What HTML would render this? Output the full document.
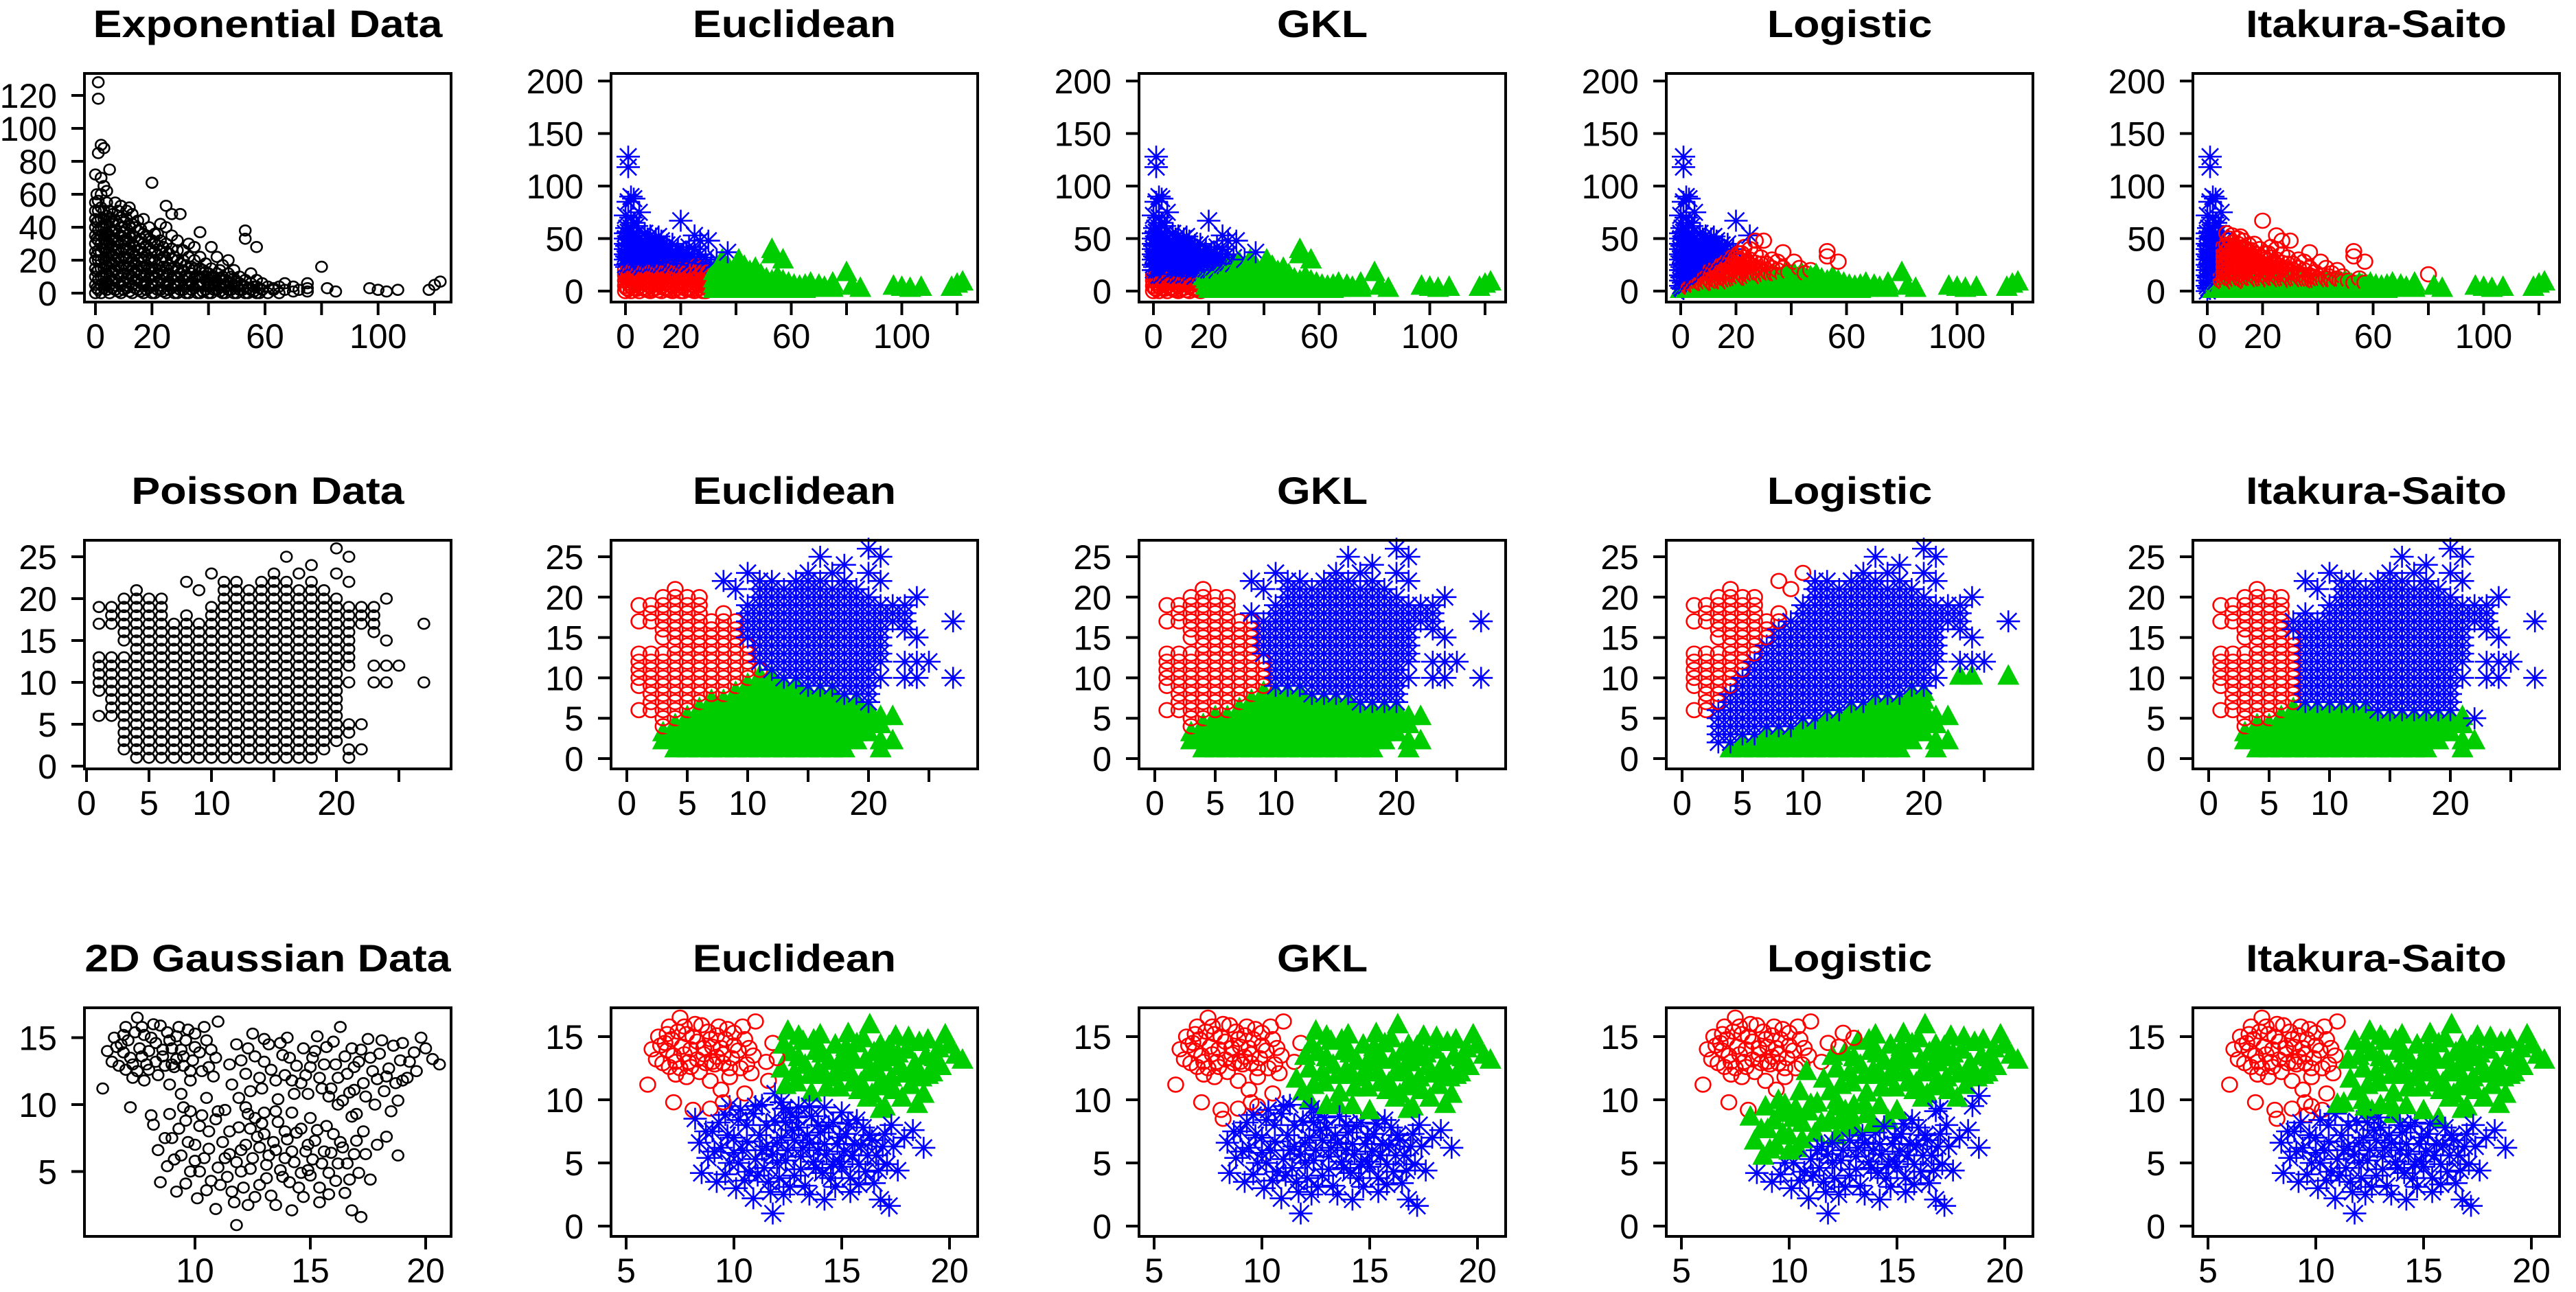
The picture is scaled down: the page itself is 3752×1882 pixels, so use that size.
<!DOCTYPE html>
<html><head><meta charset="utf-8"><title>Bregman clustering comparison</title>
<style>
html,body{margin:0;padding:0;background:#fff;}
svg{display:block;font-family:"Liberation Sans",Arial,sans-serif;}
</style></head>
<body>
<svg id="chart" xmlns="http://www.w3.org/2000/svg" width="3752" height="1882" viewBox="0 0 3752 1882">
<rect x="0" y="0" width="3752" height="1882" fill="#fff"/>
</svg>
<script>
// ---------- DATA ----------
// Exponential data: columns of [x, [y values]]
const expCols = [
[0,[0,5,10,15,20,25,30,35,40,45,50,55,72]],
[0.5,[3,13,23,33,43,60]],
[1,[2,8,14,20,26,32,38,44,50,56,85,128]],
[2,[0,5,10,15,20,25,30,35,40,45,52,60,70,90]],
[3,[3,9,15,21,27,33,39,45,50,65,88]],
[1,[118]],
[4,[2,7,12,17,22,27,32,37,42,47,55,62]],
[5,[0,5,10,15,20,25,30,35,40,45,50,75]],
[6,[3,8,13,18,23,28,33,38,43,48]],
[7,[2,8,14,20,26,32,38,44,55]],
[8,[1,6,11,16,21,26,31,36,42,50]],
[9,[0,5,10,15,20,25,30,35,40,46,53]],
[10,[2,7,12,17,22,27,32,37,43]],
[11,[3,9,15,21,27,33,39,45,50]],
[12,[1,6,11,16,21,26,31,36,41,52]],
[13,[0,5,10,15,20,25,30,35,42,48]],
[14,[3,8,13,18,23,28,34,40]],
[15,[2,8,14,20,26,32,38,44]],
[16,[1,6,11,16,21,27,33,39]],
[17,[0,5,10,15,20,25,30,36,45]],
[18,[2,7,12,17,23,29,35]],
[19,[3,9,15,21,27,33,40]],
[20,[0,5,10,15,20,26,32,67]],
[21,[0,5,10,15,20,25,30,36]],
[22,[2,7,12,17,23,29,36]],
[23,[2,8,14,20,26,32,42]],
[24,[1,6,11,16,22,28]],
[25,[0,5,10,15,20,25,30,40,53]],
[26,[2,7,12,17,24]],
[27,[3,9,15,21,27,35,48]],
[28,[0,5,10,16,22]],
[29,[0,5,10,15,20,26,32]],
[30,[2,7,12,18,48]],
[31,[2,8,14,20,26]],
[32,[0,5,10,17]],
[33,[0,5,10,15,22,30]],
[34,[2,7,12,16]],
[35,[3,9,15,20,28]],
[36,[0,5,10]],
[37,[0,5,10,15,22,37]],
[38,[1,5,10,14]],
[39,[2,8,13,18]],
[40,[0,4,8,12]],
[41,[0,5,10,15,28]],
[42,[2,6,10]],
[43,[2,7,12,22]],
[44,[1,5,9,14]],
[45,[0,5,10,17]],
[46,[0,4,8]],
[47,[2,7,12,20]],
[48,[2,6,10]],
[49,[0,5,9,14]],
[50,[0,4,7]],
[51,[2,6,10]],
[52,[2,5]],
[53,[0,4,8,33,38]],
[54,[0,3]],
[55,[2,6,12]],
[56,[1,4]],
[57,[0,4,8,28]],
[58,[0,3]],
[59,[2,6]],
[61,[0,4]],
[63,[2,3]],
[65,[0,4]],
[67,[2,6]],
[70,[1,4]],
[72,[2]],
[75,[1,3,6]],
[80,[16]],
[82,[3]],
[85,[1]],
[97,[3]],
[100,[2]],
[103,[1]],
[107,[2]],
[118,[2]],
[120,[5]],
[122,[7]]
];
// Poisson data: integer lattice columns [x, [y values]]
const poisCols = [
[1,[6,9,10,11,12,13,17,19]],
[2,[6,7,8,9,10,11,12,13,17,18,19]],
[3,[2,3,4,5,6,7,8,9,10,11,12,13,15,16,17,18,19,20]],
[4,[1,2,3,4,5,6,7,8,9,10,11,12,13,14,15,16,17,18,19,20,21]],
[5,[1,2,3,4,5,6,7,8,9,10,11,12,13,14,15,16,17,18,19,20]],
[6,[1,2,3,4,5,6,7,8,9,10,11,12,13,14,15,16,17,18,19,20]],
[7,[1,2,3,4,5,6,7,8,9,10,11,12,13,14,15,16,17]],
[8,[1,2,3,4,5,6,7,8,9,10,11,12,13,14,15,16,17,18,22]],
[9,[1,2,3,4,5,6,7,8,9,10,11,12,13,14,15,16,17,21]],
[10,[1,2,3,4,5,6,7,8,9,10,11,12,13,14,15,16,17,18,19,23]],
[11,[1,2,3,4,5,6,7,8,9,10,11,12,13,14,15,16,17,18,19,20,21,22]],
[12,[1,2,3,4,5,6,7,8,9,10,11,12,13,14,15,16,17,18,19,20,21,22]],
[13,[1,2,3,4,5,6,7,8,9,10,11,12,13,14,15,16,17,18,19,20,21]],
[14,[1,2,3,4,5,6,7,8,9,10,11,12,13,14,15,16,17,18,19,20,21,22]],
[15,[1,2,3,4,5,6,7,8,9,10,11,12,13,14,15,16,17,18,19,20,21,22,23]],
[16,[1,2,3,4,5,6,7,8,9,10,11,12,13,14,15,16,17,18,19,20,21,22,25]],
[17,[1,2,3,4,5,6,7,8,9,10,11,12,13,14,15,16,17,18,19,20,21,23]],
[18,[1,2,3,4,5,6,7,8,9,10,11,12,13,14,15,16,17,18,19,20,21,22,24]],
[19,[2,3,4,5,6,7,8,9,10,11,12,13,14,15,16,17,18,19,20,21]],
[20,[3,4,5,6,7,8,9,10,11,12,13,14,15,16,17,18,19,20,23,26]],
[21,[1,2,4,5,10,12,13,14,15,16,17,18,19,22,25]],
[22,[2,5,17,18,19]],
[23,[10,12,16,17,18,19]],
[24,[10,12,15,20]],
[25,[12]],
[27,[10,17]]
];
// 2D Gaussian data points [x, y]
const gaussPoints = [
[6.2,14],[6.5,15],[6.4,13.2],[6.8,14.5],[7,15.8],[7.2,13.5],[7.0,12.6],[7.5,16.5],[7.6,14.2],[7.8,15.2],
[7.9,13.0],[8.2,16],[8.3,14.6],[8.4,12.2],[8.6,13.6],[8.8,15.4],[9,14.2],[9.1,12.8],[9.3,15.8],[9.5,13.6],
[9.6,14.8],[9.8,12.5],[10.0,15.3],[10.2,13.9],[10.5,14.8],[10.6,12.8],[10.9,13.5],[11.0,16.2],[6,11.2],[7.2,9.8],
[8.1,9.2],[8.9,9.3],[9.4,10.8],[9.8,9.5],[7.8,11.8],[8.9,11.5],[7.3,12.0],[6.9,13.9],[8.0,14.0],[9.2,13.4],
[6.6,14.3],[6.9,15.2],[7.1,14.8],[7.3,13],[7.4,15.4],[7.7,13.6],[7.7,15.8],[8.0,12.6],[8.1,15.0],[8.3,13.2],
[8.5,15.9],[8.6,14.1],[8.7,12.9],[8.9,14.8],[9.0,13.0],[9.2,15.1],[9.4,14.1],[9.5,12.9],[9.7,15.6],[9.9,13.3],
[10.0,14.3],[10.3,12.5],[10.4,15.8],[10.7,14.1],[7.5,12.5],[6.7,12.9],[9.8,11.8],[10.8,12.1],
[11.5,13],[11.8,14.5],[11.6,11.5],[12.2,12.3],[12.5,15.3],[12.6,13.6],[12.9,11.2],[13.2,14.5],[13.3,12.6],[13.6,10.4],
[13.8,13.7],[14.0,15],[14.2,11.8],[14.4,12.9],[14.7,14.2],[14.9,10.8],[15.1,13.5],[15.3,15.1],[15.4,12],[15.7,14.3],
[15.9,11.2],[16.1,13],[16.3,15.8],[16.4,10.3],[16.6,12.3],[16.8,14.2],[17.1,13.2],[17.3,11.6],[17.5,14.9],[17.7,12.5],
[18.0,13.8],[18.2,11],[18.4,12.7],[18.6,14.4],[18.9,13.3],[19.2,12],[19.5,13.9],[19.8,15],[20.3,13.4],[20.6,13],
[17.0,9.3],[18.5,9.5],[16.2,10.0],[12.2,9.8],[11.9,10.5],[19.0,11.8],[13.5,9.5],[14.8,12.2],[16.9,11.1],[13.0,13.2],
[12.0,13.3],[12.3,14.2],[12.8,12.0],[13.0,14.9],[13.5,11.8],[13.7,14.6],[14.1,13.5],[14.3,10.8],[14.6,11.6],[15.0,12.8],
[15.2,14.0],[15.6,13.0],[15.8,10.6],[16.0,14.7],[16.2,12.0],[16.5,13.6],[16.9,12.8],[17.2,14.1],[17.4,10.6],[17.6,13.5],
[17.9,11.9],[18.1,14.8],[18.3,12.1],[18.7,11.6],[19.0,14.6],[19.3,13.2],[19.6,12.5],[20.0,14.2],[12.4,11.0],[13.9,12.2],
[15.5,11.2],[17.8,10.0],[18.8,10.3],[16.7,10.9],
[8.2,8.5],[8.4,6.6],[8.5,4.2],[8.8,5.4],[9.0,7.5],[9.2,3.5],[9.4,6.2],[9.6,8.8],[9.8,5],[10.0,7],
[10.1,3],[10.3,9.2],[10.4,6],[10.6,8],[10.7,4.3],[10.9,2.2],[11.0,5.3],[11.2,7.2],[11.3,9.6],[11.5,6.3],
[11.6,3.5],[11.8,1.0],[11.9,8.3],[12.0,5],[12.2,7],[12.3,2.5],[12.5,6],[12.6,9],[12.8,4],[13.0,7.8],
[13.1,5.5],[13.3,3.2],[13.5,6.6],[13.6,8.7],[13.8,4.6],[14.0,7.4],[14.2,2.1],[14.3,5.7],[14.5,3.8],[14.6,8.2],
[14.8,6.5],[15.0,4.7],[15.2,7.3],[15.4,2.7],[15.5,5.6],[15.7,8.4],[15.9,6.4],[16.1,4.3],[16.3,7.2],[16.5,3.4],
[16.6,5.6],[16.8,2.1],[17.0,7.3],[17.2,1.6],[17.4,6.3],[17.6,4.4],[17.9,7],[18.3,7.6],[18.8,6.2],[16.8,9.1],
[14.2,9.4],[10.5,10.5],[9.5,9.8],[11.4,4.6],[12.7,7.6],[14.9,5.1],[13.9,6.0],[12.4,8.2],[15.8,3.3],[10.2,5.0],
[8.7,7.5],[9.1,5.9],[9.3,8.2],[9.6,4.1],[9.7,7.2],[10.0,5.8],[10.2,8.4],[10.5,3.6],[10.6,6.7],[10.9,8.9],
[11.1,4.0],[11.3,6.0],[11.5,8.0],[11.7,2.7],[11.8,5.7],[12.0,6.6],[12.1,3.8],[12.3,9.3],[12.4,5.2],[12.6,3.1],
[12.8,6.8],[12.9,8.6],[13.1,4.5],[13.2,6.2],[13.4,7.2],[13.5,2.5],[13.7,5.1],[13.9,8.0],[14.1,4.2],[14.2,6.5],
[14.4,7.9],[14.6,4.9],[14.7,3.1],[14.9,7.0],[15.1,5.9],[15.3,8.1],[15.4,3.8],[15.6,6.5],[15.8,4.9],[16.0,7.8],
[16.2,5.6],[16.4,6.8],[16.7,4.4],[16.9,6.3],[17.1,4.9],[17.3,8.0],[13.0,9.4],[15.0,9.0],[11.0,9.5]
];
// Cluster centroids per method: order [red, blue, green]
const methods = ["Euclidean","GKL","Logistic","Itakura-Saito"];
const expCentroids = {
  "Euclidean":[[11,6],[8,40],[52,6]],
  "GKL":[[6,4],[8,35],[42,6]],
  "Logistic":[[30,25],[3,40],[60,1]],
  "Itakura-Saito":[[25,25],[2,40],[30,3]]
};
const poisCentroids = {
  "Euclidean":[[4,12],[16,16],[11,3]],
  "GKL":[[4,12],[16,16],[11,3]],
  "Logistic":[[1,10],[12,12],[12,0.5]],
  "Itakura-Saito":[[4,12],[15,16],[10,3]]
};
const gaussCentroids = {
  "Euclidean":[[8.3,14],[13,6],[16,12.8]],
  "GKL":[[8.3,14],[13,6],[16,12.8]],
  "Logistic":[[8,14],[15,6],[15,11]],
  "Itakura-Saito":[[8.3,14],[13,6],[16,12.8]]
};
const dataTitles = ["Exponential Data","Poisson Data","2D Gaussian Data"];
const expXTicks=[0,20,40,60,80,100,120], expXLabels=[0,20,60,100];
const expYTicksData=[0,20,40,60,80,100,120], expYTicksClus=[0,50,100,150,200];
const poisXTicks=[0,5,10,15,20,25], poisXLabels=[0,5,10,20];
const poisYTicks=[0,5,10,15,20,25];
const gaussXTicksData=[10,15,20], gaussYTicksData=[5,10,15];
const gaussXTicksClus=[5,10,15,20], gaussYTicksClus=[0,5,10,15];

// ---------- LAYOUT ----------
const NS="http://www.w3.org/2000/svg";
const svg=document.getElementById("chart");
const colLefts=[123,890,1659,2427,3194], rowTops=[107,787,1468];
const BW=534, BH=333;
function mk(tag,attrs,parent){const e=document.createElementNS(NS,tag);for(const k in attrs)e.setAttribute(k,attrs[k]);parent.appendChild(e);return e;}
function flattenCols(cols){const out=[];cols.forEach(c=>c[1].forEach(y=>out.push([c[0],y])));return out;}
const expPoints=flattenCols(expCols), poisPoints=flattenCols(poisCols);

const axes={
 exp:{data:{x0:16,xs:4.117,y0:320,ys:2.4,xt:expXTicks,xl:expXLabels,yt:expYTicksData,yl:expYTicksData},
      clus:{x0:21,xs:4.025,y0:317,ys:1.53,xt:expXTicks,xl:expXLabels,yt:expYTicksClus,yl:expYTicksClus}},
 pois:{data:{x0:3,xs:18.2,y0:329,ys:12.2,xt:poisXTicks,xl:poisXLabels,yt:poisYTicks,yl:poisYTicks},
      clus:{x0:23,xs:17.6,y0:318,ys:11.76,xt:poisXTicks,xl:poisXLabels,yt:poisYTicks,yl:poisYTicks}},
 gauss:{data:{x0:-175,xs:33.6,y0:336,ys:19.5,xt:gaussXTicksData,xl:gaussXTicksData,yt:gaussYTicksData,yl:gaussYTicksData},
      clus:{x0:-135,xs:31.4,y0:318,ys:18.4,xt:gaussXTicksClus,xl:gaussXTicksClus,yt:gaussYTicksClus,yl:gaussYTicksClus}}
};

function divergence(method,p,m){
  if(method==="Logistic"){
    const a=Math.atan2(p[1],p[0]), b=Math.atan2(m[1],m[0]);
    return Math.abs(a-b);
  }
  let d=0;
  for(let i=0;i<2;i++){
    const x=Math.max(p[i],0.3), mu=Math.max(m[i],0.3);
    if(method==="Euclidean") d+=(p[i]-m[i])*(p[i]-m[i]);
    else if(method==="GKL") d+=x*Math.log(x/mu)-x+mu;
    else d+=x/mu-Math.log(x/mu)-1;
  }
  return d;
}
function assign(method,p,cents){
  let best=0,bd=Infinity;
  cents.forEach((c,i)=>{const d=divergence(method,p,c);if(d<bd){bd=d;best=i;}});
  return best;
}

function drawTitle(g,cx,y,text){
  const t=mk("text",{x:0,y:0,"text-anchor":"middle","font-size":56,"font-weight":"bold",fill:"#000",transform:`translate(${cx},${y}) scale(1.12,1)`},g);
  
  
  t.textContent=text;
}

function drawPanel(row,col,title,points,ax,cents,method){
  const L=colLefts[col], T=rowTops[row];
  const g=mk("g",{},svg);
  
  
  drawTitle(g,L+BW/2,T-53,title);
  const X=v=>L+ax.x0+ax.xs*v, Y=v=>T+ax.y0-ax.ys*v;
  const pts=mk("g",{},g);
  
  
  points.forEach(p=>{
    const px=X(p[0]), py=Y(p[1]);
    if(!cents){
      const c=mk("ellipse",{cx:px,cy:py,rx:8,ry:7.5,fill:"none",stroke:"#000","stroke-width":2.6},pts);
      
      
      return;
    }
    const k=assign(method,p,cents);
    if(k===0){
      const c=mk("ellipse",{cx:px,cy:py,rx:11,ry:10.5,fill:"none",stroke:"#FF0000","stroke-width":2.6},pts);
      
      
    }else if(k===1){
      const s=mk("path",{d:`M${px-17},${py}H${px+17}M${px},${py-16}V${py+16}M${px-12},${py-12}L${px+12},${py+12}M${px-12},${py+12}L${px+12},${py-12}`,stroke:"#0000FF","stroke-width":2.6,fill:"none"},pts);
      
      
    }else{
      const t=mk("polygon",{points:`${px},${py-20} ${px+16},${py+10} ${px-16},${py+10}`,fill:"#00CD00"},pts);
      
      
    }
  });
  const box=mk("rect",{x:L,y:T,width:BW,height:BH,fill:"none",stroke:"#000","stroke-width":4},g);
  
  
  ax.xt.forEach(v=>{
    const tk=mk("line",{x1:X(v),x2:X(v),y1:T+BH,y2:T+BH+19,stroke:"#000","stroke-width":4},g);
    
    
  });
  ax.xl.forEach(v=>{
    const t=mk("text",{x:X(v),y:T+BH+67,"text-anchor":"middle","font-size":50,fill:"#000"},g);
    
    
    t.textContent=v;
  });
  ax.yt.forEach(v=>{
    const tk=mk("line",{x1:L-19,x2:L,y1:Y(v),y2:Y(v),stroke:"#000","stroke-width":4},g);
    
    
  });
  ax.yl.forEach(v=>{
    const t=mk("text",{x:L-40,y:Y(v)+18,"text-anchor":"end","font-size":50,fill:"#000"},g);
    
    
    t.textContent=v;
  });
}

const datasets=[["exp",expPoints,expCentroids],["pois",poisPoints,poisCentroids],["gauss",gaussPoints,gaussCentroids]];
datasets.forEach((ds,row)=>{
  drawPanel(row,0,dataTitles[row],ds[1],axes[ds[0]].data,null,null);
  methods.forEach((m,i)=>{
    drawPanel(row,i+1,m,ds[1],axes[ds[0]].clus,ds[2][m],m);
  });
});
</script>
</body></html>
